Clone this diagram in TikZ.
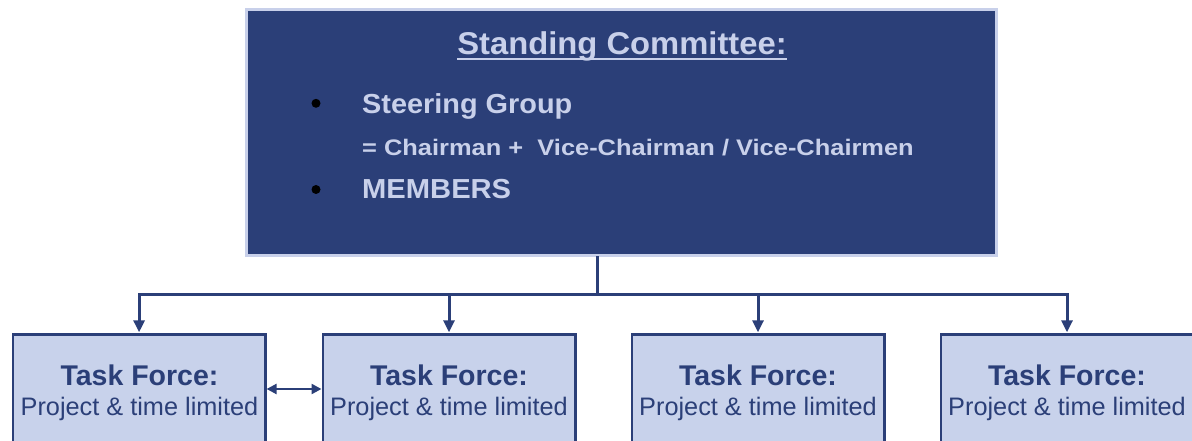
\documentclass[tikz,border=0pt]{standalone}
\usepackage{fontspec}
\setmainfont{Liberation Sans}
\usetikzlibrary{arrows.meta}
\definecolor{navy}{HTML}{2B3F78}
\definecolor{lav}{HTML}{C8D0EA}
\definecolor{boxfill}{HTML}{C8D2EB}
\begin{document}
\begin{tikzpicture}[x=1pt,y=-1pt,
 topbox/.style={draw=lav, line width=2.7pt, fill=navy, minimum width=750.3pt, minimum height=246.3pt, inner sep=0pt},
 tfbox/.style={draw=navy, line width=2.7pt, fill=boxfill, minimum width=252.3pt, minimum height=200pt, anchor=north, inner sep=0pt},
 txt/.style={inner sep=0pt, text=lav, font=\bfseries},
 tftitle/.style={inner sep=0pt, anchor=base, text=navy, font=\bfseries\fontsize{28.5}{32}\selectfont},
 tfsub/.style={inner sep=0pt, anchor=base, text=navy, font=\fontsize{25.3}{30}\selectfont},
 bul/.style={circle, fill=black, minimum size=9pt, inner sep=0pt},
 conn/.style={draw=navy, line width=3pt},
 tip/.style={-{Triangle[length=12pt,width=11pt]}, shorten >=1pt},
 dtip/.style={{Triangle[length=10pt,width=10pt]}-{Triangle[length=10pt,width=10pt]}},
]
\useasboundingbox (0,0) rectangle (1192,441);
\clip (0,0) rectangle (1192,441);

% top box
\node[topbox] (top) at (621.5,132.5) {};
\node[txt, anchor=base] (title) at (622,54.3) {\fontsize{31.5}{36}\selectfont\scalebox{1.04}[1]{Standing Committee:}};
\draw[lav, line width=1.6pt] ([yshift=-5pt]title.base west) -- ([yshift=-5pt]title.base east);
\node[bul] (b1) at (316,103.3) {};
\node[bul] (b2) at (316,189.5) {};
\node[txt, anchor=base west] (sg) at (362,113.3) {\fontsize{27.5}{32}\selectfont\scalebox{1.05}[1]{Steering Group}};
\node[txt, anchor=base west] (chair) at (362,156) {\fontsize{22.5}{26}\selectfont\scalebox{1.13}[1]{= Chairman +\ \ Vice-Chairman / Vice-Chairmen}};
\node[txt, anchor=base west] (mem) at (362,199) {\fontsize{27.5}{32}\selectfont\scalebox{1.06}[1]{MEMBERS}};

% task force boxes
\node[tfbox] (tf1) at (139.1,333.3) {};
\node[tfbox] (tf2) at (449,333.3) {};
\node[tfbox] (tf3) at (758,333.3) {};
\node[tfbox] (tf4) at (1067,333.3) {};
\foreach \i/\x in {1/139.5,2/449,3/758,4/1067}{
  \node[tftitle] (tft\i) at (\x,385) {Task Force:};
  \node[tfsub] (tfs\i) at (\x,415) {Project \& time limited};
}

% connectors
\coordinate (drop) at (597,256);
\coordinate (hub) at (597,294);
\draw[conn] (drop) -- (hub);
\draw[conn, tip] (hub) -| (tf1.north);
\draw[conn, tip] (hub) -| (tf2.north);
\draw[conn, tip] (hub) -| (tf3.north);
\draw[conn, tip] (hub) -| (tf4.north);
\draw[conn, line width=2.4pt, dtip] (tf1.east |- 0,389) -- (tf2.west |- 0,389);
\end{tikzpicture}
\end{document}
